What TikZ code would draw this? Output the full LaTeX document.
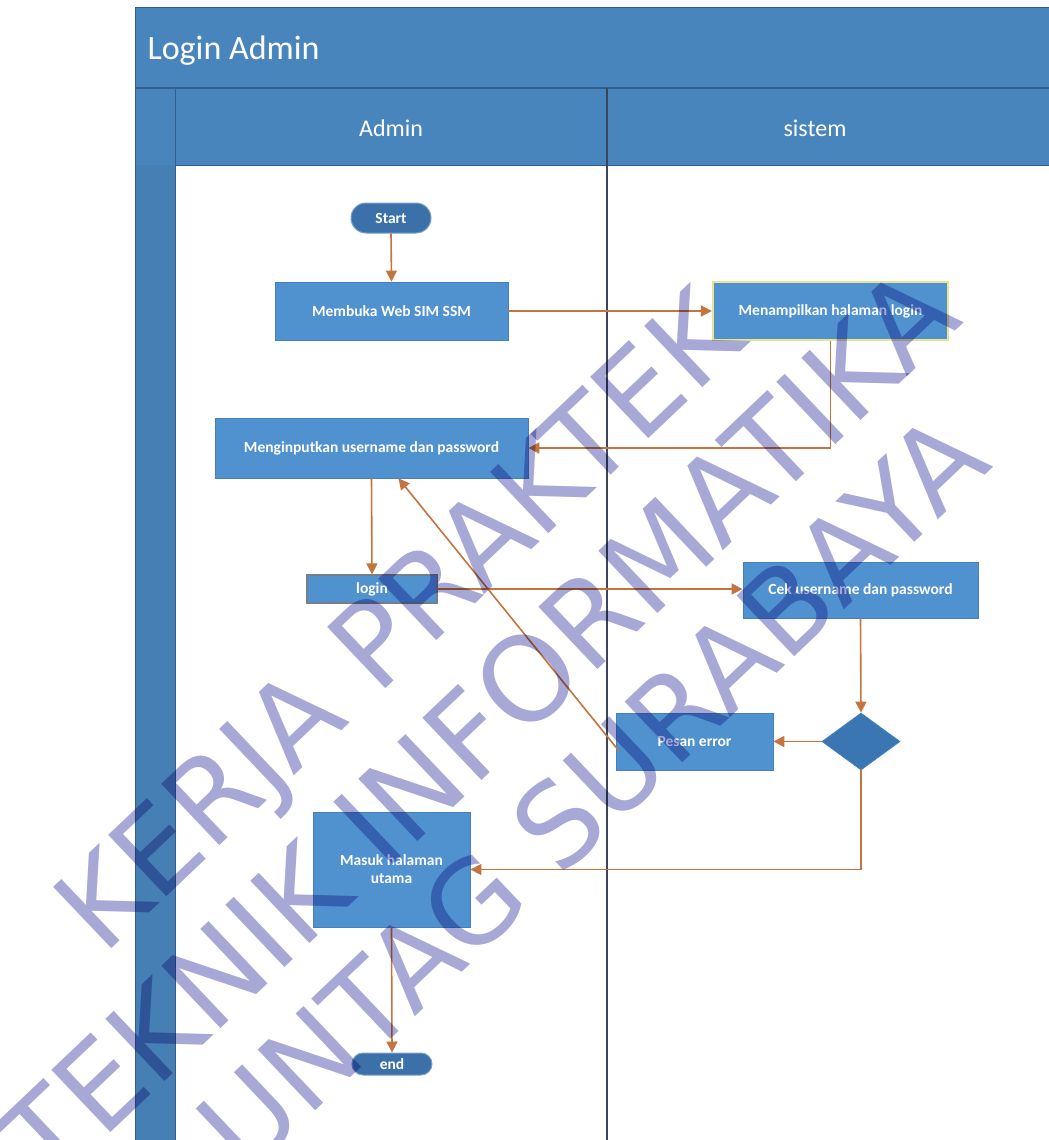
\documentclass[tikz,border=0pt]{standalone}
\usepackage{fontspec}
\usepackage{graphicx}
\setmainfont{Carlito}
\newfontfamily\wmfont{DejaVu Sans}
\usetikzlibrary{arrows.meta,shapes.geometric,calc}
\definecolor{hdr}{RGB}{73,133,189}
\definecolor{hdrline}{RGB}{52,95,140}
\definecolor{strip}{RGB}{70,127,180}
\definecolor{boxb}{RGB}{80,146,208}
\definecolor{boxedge}{RGB}{70,128,185}
\definecolor{pill}{RGB}{60,112,168}
\definecolor{pilledge}{RGB}{120,160,205}
\definecolor{dia}{RGB}{58,118,178}
\definecolor{arrc}{RGB}{196,116,62}
\definecolor{divc}{RGB}{60,70,90}
\definecolor{glow}{RGB}{232,228,150}
\definecolor{wm}{RGB}{168,168,215}
\begin{document}
\begin{tikzpicture}[x=1pt,y=-1pt,
  actbox/.style={rectangle, fill=boxb, draw=boxedge, line width=0.8pt, text=white,
    font=\fontsize{15.5}{18}\selectfont\bfseries, inner sep=0pt, align=center},
  pillnode/.style={rectangle, fill=pill, draw=pilledge, line width=1pt, text=white,
    font=\fontsize{15.5}{18}\selectfont\bfseries, inner sep=0pt, minimum width=80pt},
  decision/.style={diamond, fill=dia, draw=boxedge, line width=0.8pt, inner sep=0pt,
    minimum width=78pt, minimum height=57pt},
  arr/.style={draw=arrc, line width=1.6pt, -{Triangle[length=11pt,width=11pt]}},
  wmtext/.style={text=wm, font=\wmfont, inner sep=0pt},
  hdrtext/.style={text=white, font=\fontsize{24}{28}\selectfont}
]
\useasboundingbox (0,0) rectangle (1049,1140);
\fill[white] (0,0) rectangle (1049,1140);

% swimlane frame
\fill[hdr] (135,8) rectangle (1049,165);
\fill[strip] (135,165) rectangle (175,1140);
\draw[hdrline, line width=1.2pt] (135,88) -- (1049,88);
\draw[hdrline, line width=1pt] (135,8) -- (1049,8);
\draw[hdrline, line width=1pt] (135,8) -- (135,1140);
\draw[hdrline, line width=1pt] (175,88) -- (175,1140);
\draw[hdrline, line width=0.8pt] (175,165) -- (1049,165);
\draw[divc, line width=1.2pt] (607,88) -- (607,1140);
\node[text=white, font=\fontsize{34}{40}\selectfont, anchor=west] (title) at (144,51) {Login Admin};
\node[hdrtext] (laneA) at (391,128) {Admin};
\node[hdrtext] (laneS) at (815,128) {sistem};

% nodes
\node[pillnode, minimum height=30pt, rounded corners=15pt] (start) at (391,218) {Start};
\node[actbox, minimum width=233pt, minimum height=58pt] (membuka) at (391.5,311) {Membuka Web SIM SSM};
\node[actbox, draw=glow, line width=2.2pt, minimum width=235pt, minimum height=58pt] (tampil) at (830.5,311) {Menampilkan halaman login};
\node[actbox, minimum width=313pt, minimum height=60pt] (input) at (371.5,448) {Menginputkan username dan password};
\node[actbox, draw=divc!70, line width=1.2pt, minimum width=130pt, minimum height=28pt] (login) at (372,589) {login};
\node[actbox, minimum width=235pt, minimum height=56pt] (cek) at (860.5,590) {Cek username dan password};
\node[decision] (dec) at (861,741.5) {};
\node[actbox, minimum width=157pt, minimum height=57pt] (pesan) at (694.5,741.5) {Pesan error};
\node[actbox, minimum width=157pt, minimum height=115pt] (masuk) at (391.5,869.5) {Masuk halaman\\utama};
\node[pillnode, minimum height=22pt, rounded corners=11pt] (end) at (392,1064) {end};

% connectors
\draw[arr] (start.south) -- (membuka.north);
\draw[arr] (membuka.east) -- (tampil.west);
\draw[arr] (tampil.south) |- (input.east);
\draw[arr] (input.south) -- (login.north);
\draw[arr] (login.east) -- (login.east -| cek.west);
\draw[arr] (cek.south) -- (dec.north);
\draw[arr] (dec.west) -- (pesan.east);
\draw[arr] ($(pesan.west)+(3,9)$) -- ($(input.south)+(27,0)$);
\draw[arr] (dec.south) |- (masuk.east);
\draw[arr] (masuk.south) -- (end.north);

% watermark
\begin{scope}[blend mode=multiply]
\node[wmtext, rotate=43.5] (wm1) at (405,628) {\resizebox{890pt}{!}{KERJA PRAKTEK}};
\node[wmtext, rotate=43.5] (wm2) at (478,725) {\resizebox{1260pt}{!}{TEKNIK INFORMATIKA}};
\node[wmtext, rotate=43.5] (wm3) at (592,791) {\resizebox{1030pt}{!}{UNTAG SURABAYA}};
\end{scope}
\end{tikzpicture}
\end{document}
